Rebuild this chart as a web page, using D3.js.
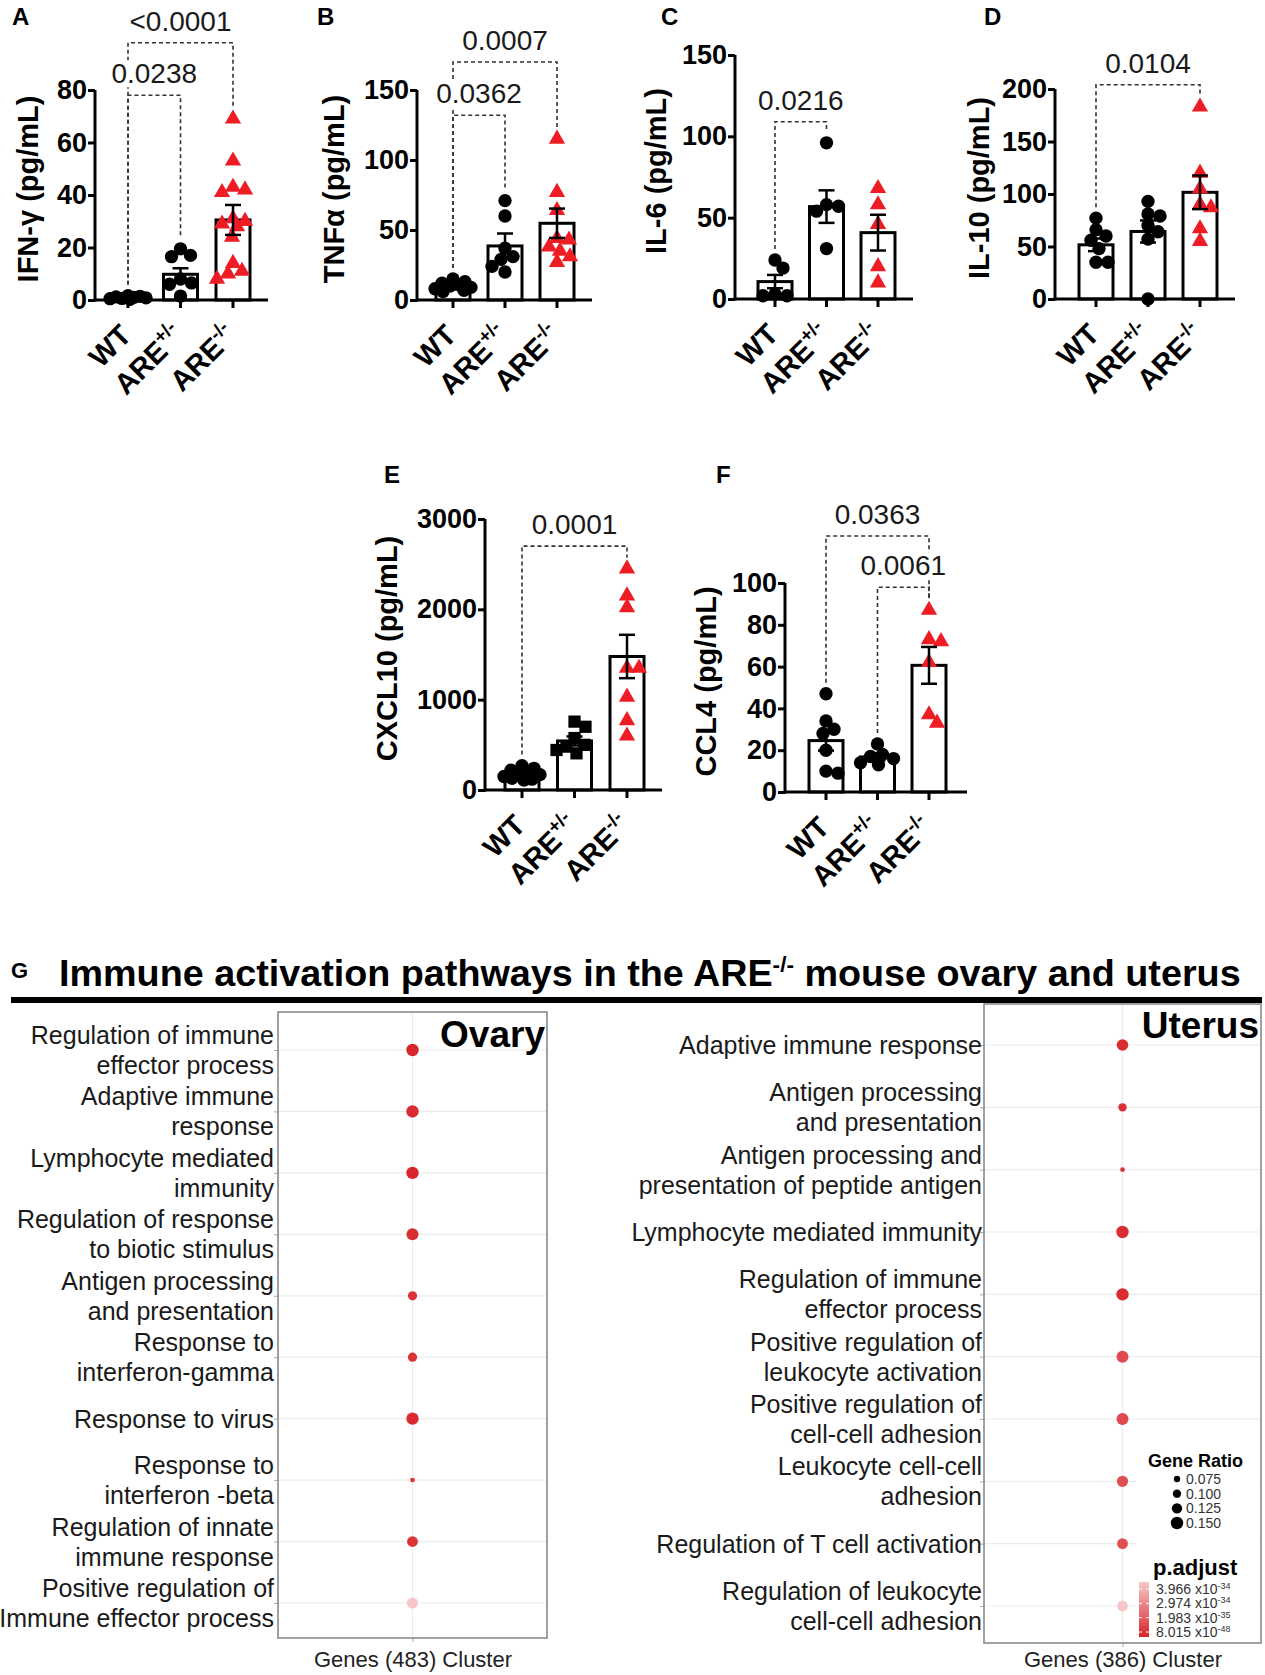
<!DOCTYPE html>
<html><head><meta charset="utf-8">
<script src="https://cdn.jsdelivr.net/npm/d3@7"></script>
<style>body{margin:0;background:#fff;} svg{display:block;font-family:"Liberation Sans",Arial,Helvetica,sans-serif;}</style>
</head><body>
<svg id="fig" width="1265" height="1675"></svg>
<script>
// ---------------- DATA ----------------
const groups = ["WT", "ARE+/-", "ARE-/-"];

// A: IFN-gamma
const ifngWT  = [1.6, 1.4, 1.2, 1.0, 0.8, 0.6, 0.5, 0.3];
const ifngHet = [19.5, 17, 16.5, 8, 6.5, 6, 1.5];
const ifngKO  = [69, 53, 43, 42, 41, 31, 30, 29, 28, 24, 14, 11, 10, 8];
const ifngMean = [1, 9.8, 30.5];
const ifngSem  = [0.2, 2.3, 5.7];
const ifngTicks = [0, 20, 40, 60, 80];
const ifngComp = [{a:0, b:2, level:98, p:"<0.0001"}, {a:0, b:1, level:78, p:"0.0238"}];

// B: TNF-alpha
const tnfWT  = [15, 13, 12, 11, 10, 9, 8, 7, 6];
const tnfHet = [71, 60, 37, 31, 29, 24, 20];
const tnfKO  = [115, 77, 64, 44, 43, 38, 35, 31, 27];
const tnfMean = [9, 38.6, 54.8];
const tnfSem  = [1, 8.9, 10.5];
const tnfTicks = [0, 50, 100, 150];
const tnfComp = [{a:0, b:2, level:170, p:"0.0007"}, {a:0, b:1, level:132, p:"0.0362"}];

// C: IL-6
const il6WT  = [24, 19, 3, 2, 2];
const il6Het = [96, 58, 57, 54, 31];
const il6KO  = [68, 58, 46, 20, 10];
const il6Mean = [10.7, 56.8, 40.8];
const il6Sem  = [4.1, 10, 11];
const il6Ticks = [0, 50, 100, 150];
const il6Comp = [{a:0, b:1, level:109, p:"0.0216"}];

// D: IL-10
const il10WT  = [77, 66, 60, 56, 48, 35, 35];
const il10Het = [93, 81, 79, 70, 64, 57, 0];
const il10KO  = [183, 120, 105, 90, 87, 67, 55];
const il10Mean = [51.6, 64.3, 101.6];
const il10Sem  = [6, 10.5, 16];
const il10Ticks = [0, 50, 100, 150, 200];
const il10Comp = [{a:0, b:2, level:204, p:"0.0104"}];

// E: CXCL10
const cxclWT  = [270, 240, 220, 200, 180, 170, 150, 130, 120, 110];
const cxclHet = [757, 700, 575, 500, 480, 443, 406];
const cxclKO  = [2450, 2150, 2020, 1350, 1350, 1030, 770, 600];
const cxclMean = [166, 543, 1478];
const cxclSem  = [18, 50, 240];
const cxclTicks = [0, 1000, 2000, 3000];
const cxclComp = [{a:0, b:2, level:2700, p:"0.0001"}];

// F: CCL4
const ccl4WT  = [47, 34, 30, 28, 20, 10, 9];
const ccl4Het = [23, 18, 17, 16, 14, 13];
const ccl4KO  = [87, 73, 72, 62, 37, 33];
const ccl4Mean = [24.6, 16.8, 60.6];
const ccl4Sem  = [4.8, 1.6, 8.8];
const ccl4Ticks = [0, 20, 40, 60, 80, 100];
const ccl4Comp = [{a:0, b:2, level:122.5, p:"0.0363"}, {a:1, b:2, level:98, p:"0.0061"}];

// G: enrichment dot plots
const ovaryTerms = [
  ["Regulation of immune", "effector process"],
  ["Adaptive immune", "response"],
  ["Lymphocyte mediated", "immunity"],
  ["Regulation of response", "to biotic stimulus"],
  ["Antigen processing", "and presentation"],
  ["Response to", "interferon-gamma"],
  ["Response to virus"],
  ["Response to", "interferon -beta"],
  ["Regulation of innate", "immune response"],
  ["Positive regulation of", "Immune effector process"]
];
const ovaryRatio = [0.15, 0.15, 0.15, 0.145, 0.11, 0.11, 0.15, 0.057, 0.13, 0.135];
const ovaryPadj  = [1e-47, 2e-47, 1e-47, 3e-47, 1e-46, 1e-46, 2e-47, 5e-46, 1e-46, 3.9e-34];

const uterusTerms = [
  ["Adaptive immune response"],
  ["Antigen processing", "and presentation"],
  ["Antigen processing and", "presentation of peptide antigen"],
  ["Lymphocyte mediated immunity"],
  ["Regulation of immune", "effector process"],
  ["Positive regulation of", "leukocyte activation"],
  ["Positive regulation of", "cell-cell adhesion"],
  ["Leukocyte cell-cell", "adhesion"],
  ["Regulation of T cell activation"],
  ["Regulation of leukocyte", "cell-cell adhesion"]
];
const uterusRatio = [0.14, 0.1, 0.053, 0.15, 0.15, 0.145, 0.145, 0.135, 0.13, 0.13];
const uterusPadj  = [2e-47, 5e-47, 1e-46, 3e-47, 3e-47, 1e-44, 1e-44, 2e-44, 2e-44, 3.9e-34];

const ratioLegend = [0.075, 0.100, 0.125, 0.150];
const padjLegend = [["3.966", "-34"], ["2.974", "-34"], ["1.983", "-35"], ["8.015", "-48"]];

// ---------------- DRAWING ----------------
const svg = d3.select("#fig");
const RED = "#ee1c25";

const panels = [
  {id:"A", title:"IFN-γ (pg/mL)", vals:[ifngWT, ifngHet, ifngKO], mean:ifngMean, sem:ifngSem, ticks:ifngTicks, comp:ifngComp,
   shapes:["circle","circle","triangle"], ax:95, axEnd:268, y0:300, y1:90, first:33, step:52.5, labX:28, letter:[12,25]},
  {id:"B", title:"TNFα (pg/mL)", vals:[tnfWT, tnfHet, tnfKO], mean:tnfMean, sem:tnfSem, ticks:tnfTicks, comp:tnfComp,
   shapes:["circle","circle","triangle"], ax:417, axEnd:592, y0:300, y1:90, first:36, step:52, labX:334, letter:[317,25]},
  {id:"C", title:"IL-6 (pg/mL)", vals:[il6WT, il6Het, il6KO], mean:il6Mean, sem:il6Sem, ticks:il6Ticks, comp:il6Comp,
   shapes:["circle","circle","triangle"], ax:735, axEnd:913, y0:299, y1:55, first:40, step:51.5, labX:656, letter:[661,25]},
  {id:"D", title:"IL-10 (pg/mL)", vals:[il10WT, il10Het, il10KO], mean:il10Mean, sem:il10Sem, ticks:il10Ticks, comp:il10Comp,
   shapes:["circle","circle","triangle"], ax:1055, axEnd:1235, y0:299, y1:89, first:41, step:52, labX:979, letter:[984,25]},
  {id:"E", title:"CXCL10 (pg/mL)", vals:[cxclWT, cxclHet, cxclKO], mean:cxclMean, sem:cxclSem, ticks:cxclTicks, comp:cxclComp,
   shapes:["circle","square","triangle"], ax:485, axEnd:662, y0:790, y1:519, first:37, step:52.5, labX:387, letter:[384,483]},
  {id:"F", title:"CCL4 (pg/mL)", vals:[ccl4WT, ccl4Het, ccl4KO], mean:ccl4Mean, sem:ccl4Sem, ticks:ccl4Ticks, comp:ccl4Comp,
   shapes:["circle","circle","triangle"], ax:785, axEnd:967, y0:792, y1:583, first:41, step:51.5, labX:706, letter:[716,483]}
];

function swarm(vals, y, r, maxOff){
  const pts = vals.map(v => ({v, py:y(v)})).sort((a,b) => a.py - b.py);
  const placed = [];
  const cands = [0]; for(let k=1;k<=maxOff;k++){cands.push(k,-k);}
  const minD = r*1.75;
  pts.forEach(p => {
    let best = 0, bestD = -1;
    for(const c of cands){
      let md = Infinity;
      for(const q of placed){ const d = Math.hypot(c-q.dx, p.py-q.py); if(d<md) md=d; }
      if(md >= minD){ best=c; bestD=md; break; }
      if(md > bestD){ bestD=md; best=c; }
    }
    p.dx = best; placed.push(p);
  });
  return pts;
}

const symSize = {circle:140, square:150, triangle:115};
const symType = {circle:d3.symbolCircle, square:d3.symbolSquare, triangle:d3.symbolTriangle};

panels.forEach(P => {
  const g = svg.append("g");
  const top = P.ticks[P.ticks.length-1];
  const y = d3.scaleLinear().domain([0, top]).range([P.y0, P.y1]);
  const x = d3.scalePoint().domain(groups).range([P.ax + P.first, P.ax + P.first + 2*P.step]);
  const bw = 34;

  svg.append("text").attr("x", P.letter[0]).attr("y", P.letter[1]).attr("font-weight","bold")
     .attr("font-size", 24).text(P.id);

  // significance brackets
  const bg = g.append("g");
  P.comp.forEach(c => {
    const xa = x(groups[c.a]), xb = x(groups[c.b]);
    const yl = y(c.level);
    const ya = y(d3.max(P.vals[c.a])) - 11, yb = y(d3.max(P.vals[c.b])) - 11;
    bg.append("path").attr("d", `M${xa},${ya}V${yl}H${xb}V${yb}`)
      .attr("fill","none").attr("stroke","#333").attr("stroke-width",1.6).attr("stroke-dasharray","4,3");
  });
  P.comp.forEach(c => {
    const xm = (x(groups[c.a]) + x(groups[c.b]))/2;
    const t = bg.append("text").attr("x", xm).attr("y", y(c.level) - 12).attr("text-anchor","middle")
      .attr("font-size", 28).attr("fill","#1a1a1a").text(c.p);
    const bb = t.node().getBBox();
    bg.insert("rect", function(){ return t.node(); }).attr("x", bb.x-2).attr("y", bb.y+2).attr("width", bb.width+4)
      .attr("height", bb.height-4).attr("fill","#fff");
  });

  // bars
  g.selectAll(".bar").data(groups).join("rect")
    .attr("x", d => x(d) - bw/2).attr("y", (d,i) => y(P.mean[i]))
    .attr("width", bw).attr("height", (d,i) => P.y0 - y(P.mean[i]))
    .attr("fill","#fff").attr("stroke","#000").attr("stroke-width",3);

  // points
  groups.forEach((grp, i) => {
    const pts = swarm(P.vals[i], y, 6.5, 18);
    const col = P.shapes[i] === "triangle" ? RED : "#000";
    g.selectAll(null).data(pts).join("path")
      .attr("transform", d => `translate(${x(grp)+d.dx},${d.py})`)
      .attr("d", d3.symbol().type(symType[P.shapes[i]]).size(symSize[P.shapes[i]]))
      .attr("fill", col);
  });

  // error bars (mean ± SEM)
  groups.forEach((grp, i) => {
    const cx = x(grp), yh = y(P.mean[i] + P.sem[i]), ylo = y(P.mean[i] - P.sem[i]);
    const eb = g.append("g").attr("stroke","#000").attr("stroke-width",2.5);
    eb.append("line").attr("x1",cx).attr("x2",cx).attr("y1",yh).attr("y2",ylo);
    eb.append("line").attr("x1",cx-8).attr("x2",cx+8).attr("y1",yh).attr("y2",yh);
    eb.append("line").attr("x1",cx-8).attr("x2",cx+8).attr("y1",ylo).attr("y2",ylo);
  });

  // y axis
  const ya = g.append("g").attr("transform", `translate(${P.ax},0)`)
    .call(d3.axisLeft(y).tickValues(P.ticks).tickSize(7).tickSizeOuter(0).tickPadding(1).tickFormat(d3.format("d")));
  ya.select(".domain").attr("stroke-width",3).attr("d", `M0,${P.y0+1.5}V${P.y1}`);
  ya.selectAll(".tick line").attr("stroke-width",3);
  ya.selectAll(".tick text").attr("font-size",27).attr("font-weight","bold").attr("fill","#000")
    .attr("font-family","Liberation Sans, Arial, sans-serif");

  // x axis
  g.append("line").attr("x1", P.ax).attr("x2", P.axEnd).attr("y1", P.y0).attr("y2", P.y0)
    .attr("stroke","#000").attr("stroke-width",3);
  groups.forEach(grp => {
    g.append("line").attr("x1", x(grp)).attr("x2", x(grp)).attr("y1", P.y0).attr("y2", P.y0+8)
      .attr("stroke","#000").attr("stroke-width",3);
    const t = g.append("text").attr("transform", `translate(${x(grp)+5},${P.y0+37}) rotate(-45)`)
      .attr("text-anchor","end").attr("font-weight","bold").attr("font-size",29);
    if(grp === "WT") t.text("WT");
    else {
      t.append("tspan").text("ARE");
      t.append("tspan").attr("dy",-12).attr("font-size",19).text(grp.slice(3));
    }
  });

  // y title
  g.append("text").attr("transform", `translate(${P.labX},${(P.y0+P.y1)/2 - 6}) rotate(-90)`)
    .attr("text-anchor","middle").attr("dy","0.35em").attr("font-weight","bold").attr("font-size",29)
    .text(P.title);
});

// ---------------- PANEL G ----------------
svg.append("text").attr("x",11).attr("y",978).attr("font-weight","bold").attr("font-size",22).text("G");
const title = svg.append("text").attr("x",59).attr("y",986).attr("font-weight","bold");
const tA = title.append("tspan").text("Immune activation pathways in the ARE");
const tS = title.append("tspan").text("-/-");
const tB = title.append("tspan").text(" mouse ovary and uterus");
function setTitle(fs){
  title.attr("font-size", fs);
  tS.attr("font-size", fs*0.6).attr("dy", -fs*0.38);
  tB.attr("dy", fs*0.38);
}
setTitle(40);
const tw = title.node().getComputedTextLength();
setTitle(40 * 1182 / tw);
svg.append("rect").attr("x",11).attr("y",997).attr("width",1251).attr("height",6).attr("fill","#000");

const rScale = d3.scaleLinear().domain([0.05, 0.15]).range([2.2, 6.2]);
const colScale = d3.scaleLinear().domain([-47.1, -33.4]).range(["#d8262b", "#f6c6c8"]).clamp(true);

function dotPanel(cfg){
  const g = svg.append("g");
  const idx = d3.range(cfg.terms.length);
  const y = d3.scalePoint().domain(idx).range([cfg.rowTop, cfg.rowBot]);
  const x = d3.scalePoint().domain([cfg.cluster]).range([cfg.x0, cfg.x1]).padding(0.5);
  g.selectAll(".hg").data(idx).join("line").attr("x1",cfg.x0).attr("x2",cfg.x1)
    .attr("y1", d => y(d)).attr("y2", d => y(d)).attr("stroke","#ececec").attr("stroke-width",1.2);
  g.append("line").attr("x1",x(cfg.cluster)).attr("x2",x(cfg.cluster)).attr("y1",cfg.y0).attr("y2",cfg.y1)
    .attr("stroke","#ececec").attr("stroke-width",1.2);
  const ya = g.append("g").attr("transform",`translate(${cfg.x0},0)`)
    .call(d3.axisLeft(y).tickSize(4).tickFormat(""));
  ya.select(".domain").remove();
  ya.selectAll(".tick line").attr("stroke","#aaa");
  const xa = g.append("g").attr("transform",`translate(0,${cfg.y1})`)
    .call(d3.axisBottom(x).tickSize(4).tickPadding(cfg.xPad));
  xa.select(".domain").remove();
  xa.selectAll(".tick line").attr("stroke","#aaa");
  xa.selectAll(".tick text").attr("font-size",22).attr("fill","#222")
    .attr("font-family","Liberation Sans, Arial, sans-serif");
  g.append("rect").attr("x",cfg.x0).attr("y",cfg.y0).attr("width",cfg.x1-cfg.x0).attr("height",cfg.y1-cfg.y0)
    .attr("fill","none").attr("stroke","#8a8a8a").attr("stroke-width",1.6);
  idx.forEach(i => {
    const lines = cfg.terms[i];
    const t = g.append("text").attr("text-anchor","end").attr("font-size",25).attr("fill","#1a1a1a");
    if(lines.length === 1){
      t.append("tspan").attr("x", cfg.labX).attr("y", y(i) + 9).text(lines[0]);
    } else {
      t.append("tspan").attr("x", cfg.labX).attr("y", y(i) - 6).text(lines[0]);
      t.append("tspan").attr("x", cfg.labX).attr("y", y(i) + 24).text(lines[1]);
    }
  });
  g.append("text").attr("x", cfg.nameX).attr("y", cfg.nameY).attr("text-anchor","end")
    .attr("font-weight","bold").attr("font-size",37).text(cfg.name);
  cfg.g = g; cfg.y = y; cfg.x = x;
  return cfg;
}

function drawDots(cfg){
  cfg.g.selectAll(".dot").data(d3.range(cfg.terms.length)).join("circle")
    .attr("cx", cfg.x(cfg.cluster)).attr("cy", d => cfg.y(d))
    .attr("r", d => rScale(cfg.ratio[d])).attr("fill", d => colScale(Math.log10(cfg.padj[d])));
}

const ov = dotPanel({terms:ovaryTerms, ratio:ovaryRatio, padj:ovaryPadj, cluster:"Genes (483) Cluster",
  x0:278, x1:547, y0:1012, y1:1638, rowTop:1050, rowBot:1603, labX:274, name:"Ovary", nameX:545, nameY:1047, xPad:9});
drawDots(ov);
const ut = dotPanel({terms:uterusTerms, ratio:uterusRatio, padj:uterusPadj, cluster:"Genes (386) Cluster",
  x0:984, x1:1261, y0:1004, y1:1643, rowTop:1045, rowBot:1606, labX:982, name:"Uterus", nameX:1259, nameY:1038, xPad:4});

// legend inside the uterus panel
const lg = svg.append("g");
lg.append("rect").attr("x",1136).attr("y",1447).attr("width",123).attr("height",194).attr("fill","#fff");
drawDots(ut);
lg.append("text").attr("x",1148).attr("y",1467).attr("font-weight","bold").attr("font-size",18).text("Gene Ratio");
const ly = d3.scalePoint().domain(ratioLegend).range([1484, 1528]);
lg.selectAll(".ld").data(ratioLegend).join("circle").attr("cx",1177).attr("cy", d => ly(d) - 5)
  .attr("r", d => rScale(d)).attr("fill","#000");
lg.selectAll(".lt").data(ratioLegend).join("text").attr("x",1186).attr("y", d => ly(d))
  .attr("font-size",14).attr("fill","#333").text(d => d3.format(".3f")(d));
lg.append("text").attr("x",1153).attr("y",1575).attr("font-weight","bold").attr("font-size",22).text("p.adjust");
const defs = svg.append("defs");
const grad = defs.append("linearGradient").attr("id","pgrad").attr("x1",0).attr("x2",0).attr("y1",0).attr("y2",1);
grad.append("stop").attr("offset","0%").attr("stop-color", colScale(-33.4));
grad.append("stop").attr("offset","100%").attr("stop-color", colScale(-47.1));
lg.append("rect").attr("x",1139).attr("y",1582).attr("width",10).attr("height",55).attr("fill","url(#pgrad)");
const py = d3.scalePoint().domain(d3.range(padjLegend.length)).range([1594, 1637]);
padjLegend.forEach((d,i) => {
  lg.append("line").attr("x1",1139).attr("x2",1142).attr("y1",py(i)-5).attr("y2",py(i)-5).attr("stroke","#fff");
  lg.append("line").attr("x1",1146).attr("x2",1149).attr("y1",py(i)-5).attr("y2",py(i)-5).attr("stroke","#fff");
  const t = lg.append("text").attr("x",1156).attr("y",py(i)).attr("font-size",14).attr("fill","#333");
  t.append("tspan").text(d[0] + " x10");
  t.append("tspan").attr("dy",-5).attr("font-size",9).text(d[1]);
});
</script>
</body></html>
